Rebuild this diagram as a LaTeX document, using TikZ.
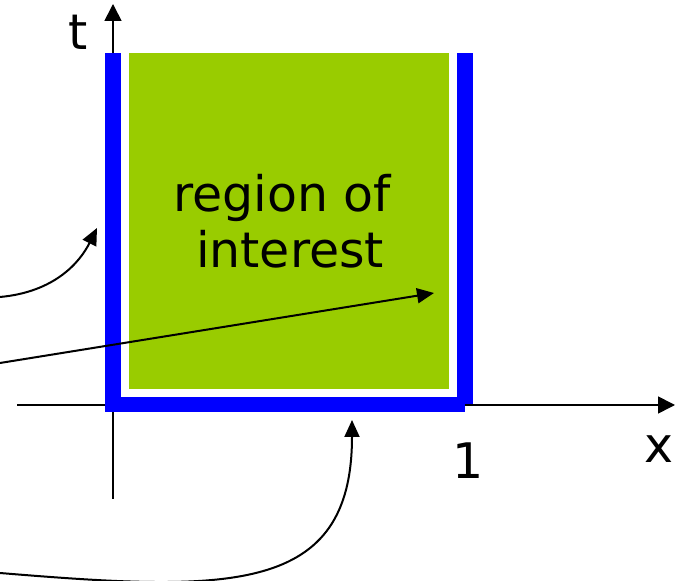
\documentclass[tikz,border=0pt]{standalone}
\usepackage{fontspec}
\setmainfont{DejaVu Sans}
\usepackage{tikz}
\usepackage{xcolor}
\usetikzlibrary{arrows.meta, positioning}
\definecolor{regiongreen}{HTML}{99CC00}
\definecolor{boundblue}{HTML}{0000FF}

\begin{document}
\begin{tikzpicture}[x=0.5pt, y=-0.5pt,
            bar/.style={fill=boundblue, draw=none},
            axis/.style={-{Triangle[length=8.5pt, width=8.5pt]}, line width=0.8pt},
            arr/.style={-{Triangle[length=8.5pt, width=7.5pt]}, line width=1pt},
            lbl/.style={font=\fontsize{24.5pt}{28pt}\selectfont, inner sep=0pt, anchor=base}
        ]
            \useasboundingbox (0,0) rectangle (679,581);
            % axes
            \coordinate (xstart) at (17,405);
            \coordinate (xend) at (675,405);
            \coordinate (tstart) at (113,499);
            \coordinate (tend) at (113,4);
            \draw[axis] (xstart) -- (xend);
            \draw[axis] (tstart) -- (tend);
            % region and boundary
            \fill[regiongreen] (129,53) rectangle (449,389);
            \fill[bar] (105,53) rectangle (121,412);
            \fill[bar] (105,397) rectangle (465,412);
            \fill[bar] (457,53) rectangle (473,404);
            % labels
            \node[lbl] (tlab) at (78,50) {t};
            \node[lbl] (xlab) at (659,463) {x};
            \node[lbl] (one) at (468,479) {1};
            \node[lbl] (reg1) at (282,212) {region of};
            \node[lbl] (reg2) at (290,268) {interest};
            % pointers
            \coordinate (lfrom) at (0,297);
            \coordinate (lto) at (97,228);
            \coordinate (ifrom) at (0,363);
            \coordinate (ito) at (434,293);
            \coordinate (bfrom) at (0,573);
            \coordinate (bto) at (352,420);
            \draw[arr] (lfrom) .. controls (55,292) and (80,262) .. (lto);
            \draw[arr] (ifrom) -- (ito);
            \draw[arr] (bfrom) .. controls (230,592) and (352,595) .. (bto);
        \end{tikzpicture}
\end{document}
